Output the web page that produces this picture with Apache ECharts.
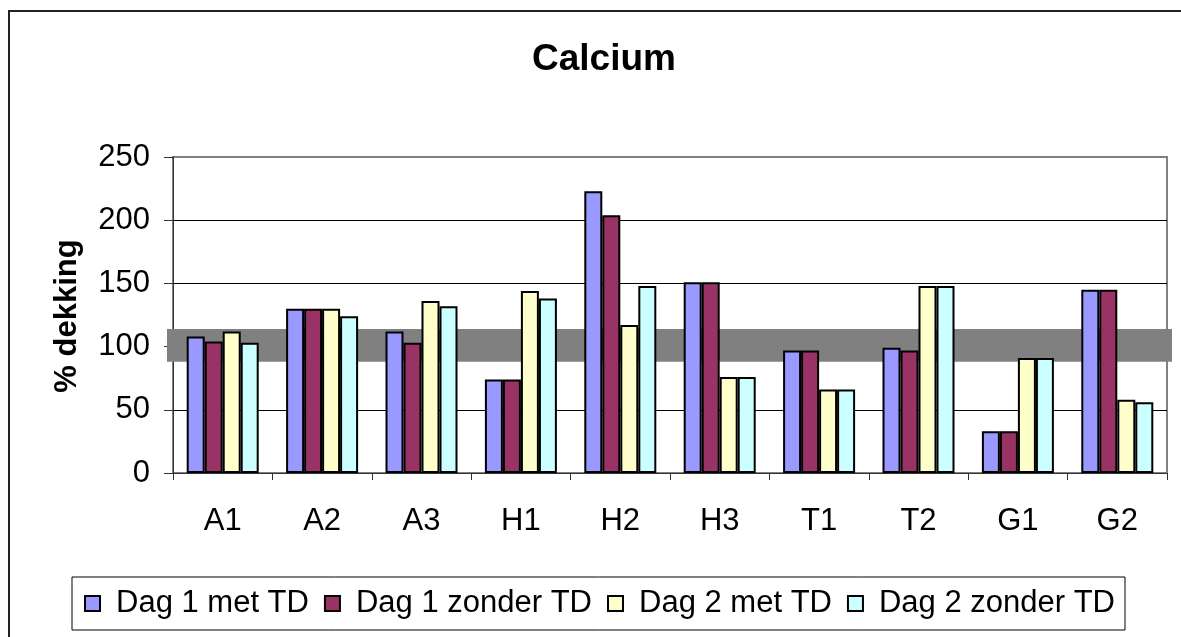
<!DOCTYPE html>
<html>
<head>
<meta charset="utf-8">
<script src="https://cdn.jsdelivr.net/npm/echarts@6/dist/echarts.min.js"></script>
<style>
html,body{margin:0;padding:0;background:#fff;}
#chart{width:1181px;height:637px;}
</style>
</head>
<body>
<div id="chart"></div>
<script>
const categories = ['A1','A2','A3','H1','H2','H3','T1','T2','G1','G2'];
const seriesNames = ['Dag 1 met TD','Dag 1 zonder TD','Dag 2 met TD','Dag 2 zonder TD'];
const dag1Met    = [108, 130, 112, 74, 223, 151, 97, 99, 33, 145];
const dag1Zonder = [104, 130, 103, 74, 204, 151, 97, 97, 33, 145];
const dag2Met    = [112, 130, 136, 144, 117, 76, 66, 148, 91, 58];
const dag2Zonder = [103, 124, 132, 138, 148, 76, 66, 148, 91, 56];
const yMin = 0, yMax = 250, yStep = 50;
const bandRange = [88, 114];
const titleText = 'Calcium';
const yTitle = '% dekking';

const colors = ['#9999FF','#993366','#FFFFCC','#CCFFFF'];
const FONT = "'Liberation Sans', Arial, sans-serif";
const chart = echarts.init(document.getElementById('chart'), null, {renderer:'canvas'});

const seriesData = [dag1Met, dag1Zonder, dag2Met, dag2Zonder];
const gridLeft = 173, gridTop = 157, gridW = 994, gridH = 316;

const option = {
  animation: false,
  backgroundColor: '#fff',
  textStyle: {fontFamily: FONT},
  grid: {left: gridLeft, top: gridTop, width: gridW, height: gridH, show: true,
         borderColor: '#808080', borderWidth: 2, backgroundColor: 'transparent'},
  legend: {
    left: 72, top: 577,
    padding: [11, 10, 11, 12],
    borderColor: '#000', borderWidth: 1,
    itemGap: 15, itemWidth: 15, itemHeight: 15,
    icon: 'rect',
    textStyle: {fontSize: 31, color: '#000', fontFamily: FONT, padding: [0,0,0,11]},
    data: seriesNames
  },
  xAxis: {
    type: 'category', data: categories,
    axisLine: {show: true, lineStyle: {color: '#333', width: 1}},
    axisTick: {show: true, length: 7, lineStyle: {color: '#333'}},
    axisLabel: {fontSize: 31, color: '#000', margin: 33, fontFamily: FONT},
    splitLine: {show: false}
  },
  yAxis: {
    type: 'value', min: yMin, max: yMax, interval: yStep,
    axisLine: {show: true, lineStyle: {color: '#333', width: 1}},
    axisTick: {show: true, length: 9, lineStyle: {color: '#333'}},
    axisLabel: {fontSize: 31, color: '#000', margin: 23, fontFamily: FONT},
    splitLine: {show: true, showMinLine: false, showMaxLine: false, lineStyle: {color: '#000', width: 1}}
  },
  series: seriesData.map((d, i) => ({
    name: seriesNames[i], type: 'bar', data: d,
    barWidth: 18, barGap: '0%',
    itemStyle: {color: colors[i], borderColor: '#000', borderWidth: 2},
    z: 2
  }))
};
chart.setOption(option);

const yTop = chart.convertToPixel({yAxisIndex: 0}, bandRange[1]);
const yBot = chart.convertToPixel({yAxisIndex: 0}, bandRange[0]);
chart.setOption({
  graphic: [
    {type: 'rect', z: 1, silent: true,
     shape: {x: gridLeft - 6, y: yTop, width: gridW + 11, height: yBot - yTop},
     style: {fill: '#808080'}},
    {type: 'rect', z: 0, silent: true,
     shape: {x: 9, y: 11, width: 1300, height: 800},
     style: {fill: 'none', stroke: '#222', lineWidth: 2}},
    {type: 'text', z: 5, x: 604, y: 60,
     style: {text: titleText, font: "bold 37px " + FONT, fill: '#000', align: 'center', verticalAlign: 'middle'}},
    {type: 'text', z: 5, x: 67, y: 316, rotation: Math.PI / 2,
     style: {text: yTitle, font: "bold 31px " + FONT, fill: '#000', align: 'center', verticalAlign: 'middle'}}
  ]
});
</script>
</body>
</html>
